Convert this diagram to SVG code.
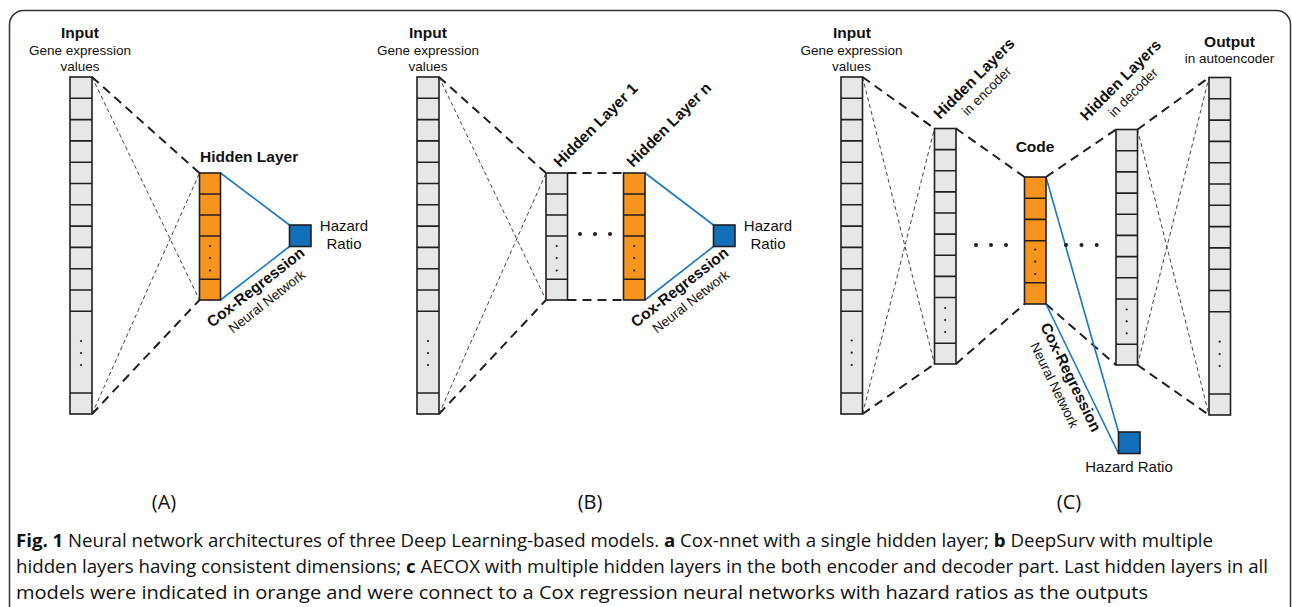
<svg xmlns="http://www.w3.org/2000/svg" width="1292" height="607" viewBox="0 0 1292 607">
<style>
.g{fill:#e6e7e8;stroke:#231f20;stroke-width:1.6}
.o{fill:#f7941d;stroke:#231f20;stroke-width:1.6}
.ln{fill:none;stroke:#231f20;stroke-width:1.6}
.hz{fill:#1170b8;stroke:#231f20;stroke-width:1.6}
.thick{fill:none;stroke:#231f20;stroke-width:2;stroke-dasharray:9 6}
.thin{fill:none;stroke:#444;stroke-width:1;stroke-dasharray:4 3}
.blue{fill:none;stroke:#1a78c2;stroke-width:1.6}
.dot{fill:#231f20}
text{font-family:"Liberation Sans",Arial,sans-serif;fill:#111}
.b{font-weight:bold;font-size:15.5px}
.r{font-size:13.5px}
.hr{font-size:15px}
.lab{font-family:"Open Sans","Liberation Sans",sans-serif;font-size:20px;fill:#111}
.cap{font-family:"Open Sans","Liberation Sans",sans-serif;font-size:18px;fill:#111}
</style>
<rect x="0" y="0" width="1292" height="607" fill="#fff"/>
<rect x="9.5" y="10.5" width="1281" height="660" rx="14" fill="none" stroke="#333" stroke-width="1.5"/>

<g id="connectors">
<!-- Panel A -->
<line class="thick" x1="92" y1="77" x2="199.5" y2="173"/>
<line class="thick" x1="92" y1="414" x2="199.5" y2="300"/>
<line class="thin" x1="92" y1="77" x2="199.5" y2="300"/>
<line class="thin" x1="92" y1="414" x2="199.5" y2="173"/>
<line class="blue" x1="220.5" y1="173" x2="289.5" y2="225"/>
<line class="blue" x1="220.5" y1="300" x2="289.5" y2="246.5"/>
<!-- Panel B -->
<line class="thick" x1="439" y1="77" x2="546" y2="173"/>
<line class="thick" x1="439" y1="414" x2="546" y2="300"/>
<line class="thin" x1="439" y1="77" x2="546" y2="300"/>
<line class="thin" x1="439" y1="414" x2="546" y2="173"/>
<line class="thick" x1="567.5" y1="173" x2="623.5" y2="173"/>
<line class="thick" x1="567.5" y1="300" x2="623.5" y2="300"/>
<line class="blue" x1="645" y1="173" x2="713.5" y2="225"/>
<line class="blue" x1="645" y1="300" x2="713.5" y2="246.5"/>
<!-- Panel C -->
<line class="thick" x1="862.5" y1="77" x2="934.5" y2="128.5"/>
<line class="thick" x1="862.5" y1="414" x2="934.5" y2="364"/>
<line class="thin" x1="862.5" y1="77" x2="934.5" y2="364"/>
<line class="thin" x1="862.5" y1="414" x2="934.5" y2="128.5"/>
<line class="thick" x1="956" y1="128.5" x2="1024.5" y2="177"/>
<line class="thick" x1="956" y1="364" x2="1024.5" y2="304"/>
<line class="thick" x1="1046" y1="177" x2="1116" y2="129.5"/>
<line class="thick" x1="1046" y1="304" x2="1116" y2="365"/>
<line class="thick" x1="1137.5" y1="129.5" x2="1209" y2="77.5"/>
<line class="thick" x1="1137.5" y1="365" x2="1209" y2="415"/>
<line class="thin" x1="1137.5" y1="129.5" x2="1209" y2="415"/>
<line class="thin" x1="1137.5" y1="365" x2="1209" y2="77.5"/>
<line class="blue" x1="1046" y1="177" x2="1118.5" y2="432"/>
<line class="blue" x1="1046" y1="304" x2="1118.5" y2="453.5"/>
</g>

<!-- Panel A -->
<g id="inputA">
<rect class="g" x="70" y="77" width="22" height="337"/>
<path class="ln" d="M70 98.3h22M70 119.6h22M70 140.9h22M70 162.2h22M70 183.5h22M70 204.8h22M70 226.1h22M70 247.4h22M70 268.7h22M70 290h22M70 311.3h22M70 393h22"/>
<circle class="dot" cx="81" cy="341" r="1.1"/><circle class="dot" cx="81" cy="353" r="1.1"/><circle class="dot" cx="81" cy="365" r="1.1"/>
<text class="b" x="80" y="38" text-anchor="middle">Input</text>
<text class="r" x="80" y="54.5" text-anchor="middle">Gene expression</text>
<text class="r" x="80" y="70.5" text-anchor="middle">values</text>
</g>
<g id="hiddenA">
<rect class="o" x="199.5" y="173" width="21" height="127"/>
<path class="ln" d="M199.5 194h21M199.5 215h21M199.5 236h21M199.5 279.3h21"/>
<circle class="dot" cx="210" cy="246" r="1.1"/><circle class="dot" cx="210" cy="258" r="1.1"/><circle class="dot" cx="210" cy="270.5" r="1.1"/>
<text class="b" x="200" y="162">Hidden Layer</text>
</g>
<g id="hazardA">
<rect class="hz" x="289.5" y="225" width="21.5" height="21.5"/>
<text class="hr" x="344" y="231" text-anchor="middle">Hazard</text>
<text class="hr" x="344" y="249" text-anchor="middle">Ratio</text>
</g>
<g id="coxA" transform="translate(212,328) rotate(-38)">
<text class="b" x="59.5" y="0" text-anchor="middle">Cox-Regression</text>
<text class="r" x="59.5" y="17.5" text-anchor="middle">Neural Network</text>
</g>
<text class="lab" x="164" y="509" text-anchor="middle">(A)</text>

<!-- Panel B -->
<g id="inputB">
<rect class="g" x="417" y="77" width="22" height="337"/>
<path class="ln" d="M417 98.3h22M417 119.6h22M417 140.9h22M417 162.2h22M417 183.5h22M417 204.8h22M417 226.1h22M417 247.4h22M417 268.7h22M417 290h22M417 311.3h22M417 393h22"/>
<circle class="dot" cx="428" cy="341" r="1.1"/><circle class="dot" cx="428" cy="353" r="1.1"/><circle class="dot" cx="428" cy="365" r="1.1"/>
<text class="b" x="428" y="38" text-anchor="middle">Input</text>
<text class="r" x="428" y="54.5" text-anchor="middle">Gene expression</text>
<text class="r" x="428" y="70.5" text-anchor="middle">values</text>
</g>
<g id="hidden1B">
<rect class="g" x="546" y="173" width="21.5" height="127"/>
<path class="ln" d="M546 194h21.5M546 215h21.5M546 236h21.5M546 279.3h21.5"/>
<circle class="dot" cx="556.7" cy="246" r="1.1"/><circle class="dot" cx="556.7" cy="258" r="1.1"/><circle class="dot" cx="556.7" cy="270.5" r="1.1"/>
<text class="b" transform="translate(560,168) rotate(-45)">Hidden Layer 1</text>
</g>
<g id="ellipsisB">
<circle class="dot" cx="580" cy="234" r="2"/><circle class="dot" cx="595" cy="234" r="2"/><circle class="dot" cx="610" cy="234" r="2"/>
</g>
<g id="hiddenNB">
<rect class="o" x="623.5" y="173" width="21.5" height="127"/>
<path class="ln" d="M623.5 194h21.5M623.5 215h21.5M623.5 236h21.5M623.5 279.3h21.5"/>
<circle class="dot" cx="634.2" cy="246" r="1.1"/><circle class="dot" cx="634.2" cy="258" r="1.1"/><circle class="dot" cx="634.2" cy="270.5" r="1.1"/>
<text class="b" transform="translate(633,168) rotate(-45)">Hidden Layer n</text>
</g>
<g id="hazardB">
<rect class="hz" x="713.5" y="225" width="21.5" height="21.5"/>
<text class="hr" x="768" y="231" text-anchor="middle">Hazard</text>
<text class="hr" x="768" y="249" text-anchor="middle">Ratio</text>
</g>
<g id="coxB" transform="translate(636,328) rotate(-38)">
<text class="b" x="59.5" y="0" text-anchor="middle">Cox-Regression</text>
<text class="r" x="59.5" y="17.5" text-anchor="middle">Neural Network</text>
</g>
<text class="lab" x="590" y="509" text-anchor="middle">(B)</text>

<!-- Panel C -->
<g id="inputC">
<rect class="g" x="841" y="77" width="21.5" height="337"/>
<path class="ln" d="M841 98.3h21.5M841 119.6h21.5M841 140.9h21.5M841 162.2h21.5M841 183.5h21.5M841 204.8h21.5M841 226.1h21.5M841 247.4h21.5M841 268.7h21.5M841 290h21.5M841 311.3h21.5M841 393h21.5"/>
<circle class="dot" cx="851.7" cy="340.5" r="1.1"/><circle class="dot" cx="851.7" cy="352.7" r="1.1"/><circle class="dot" cx="851.7" cy="365" r="1.1"/>
<text class="b" x="852" y="38" text-anchor="middle">Input</text>
<text class="r" x="851.5" y="54.5" text-anchor="middle">Gene expression</text>
<text class="r" x="851.5" y="70.5" text-anchor="middle">values</text>
</g>
<g id="encoderC">
<rect class="g" x="934.5" y="128.5" width="21.5" height="235.5"/>
<path class="ln" d="M934.5 149.6h21.5M934.5 170.8h21.5M934.5 191.9h21.5M934.5 213h21.5M934.5 234.1h21.5M934.5 255.2h21.5M934.5 276.4h21.5M934.5 297.5h21.5M934.5 343.3h21.5"/>
<circle class="dot" cx="945.2" cy="308" r="1.1"/><circle class="dot" cx="945.2" cy="320" r="1.1"/><circle class="dot" cx="945.2" cy="332" r="1.1"/>
<g transform="translate(940,120) rotate(-45)">
<text class="b" x="53.4" y="0" text-anchor="middle">Hidden Layers</text>
<text class="r" x="53.4" y="17" text-anchor="middle">in encoder</text>
</g>
</g>
<g id="ellipsisC1">
<circle class="dot" cx="976" cy="245" r="2"/><circle class="dot" cx="991" cy="245" r="2"/><circle class="dot" cx="1006" cy="245" r="2"/>
</g>
<g id="codeC">
<rect class="o" x="1024.5" y="177" width="21.5" height="127"/>
<path class="ln" d="M1024.5 198.2h21.5M1024.5 219.4h21.5M1024.5 240.7h21.5M1024.5 282.7h21.5"/>
<circle class="dot" cx="1035.2" cy="249.5" r="1.1"/><circle class="dot" cx="1035.2" cy="261.7" r="1.1"/><circle class="dot" cx="1035.2" cy="274" r="1.1"/>
<text class="b" x="1035" y="152" text-anchor="middle">Code</text>
</g>
<g id="ellipsisC2">
<circle class="dot" cx="1066" cy="245" r="2"/><circle class="dot" cx="1081.5" cy="245" r="2"/><circle class="dot" cx="1096.7" cy="245" r="2"/>
</g>
<g id="decoderC">
<rect class="g" x="1116" y="129.5" width="21.5" height="235.5"/>
<path class="ln" d="M1116 150.7h21.5M1116 171.9h21.5M1116 193.1h21.5M1116 214.3h21.5M1116 235.4h21.5M1116 256.6h21.5M1116 277.8h21.5M1116 299h21.5M1116 344.3h21.5"/>
<circle class="dot" cx="1126.7" cy="309.5" r="1.1"/><circle class="dot" cx="1126.7" cy="321.3" r="1.1"/><circle class="dot" cx="1126.7" cy="333.3" r="1.1"/>
<g transform="translate(1086.5,121.5) rotate(-45)">
<text class="b" x="53.4" y="0" text-anchor="middle">Hidden Layers</text>
<text class="r" x="53.4" y="17" text-anchor="middle">in decoder</text>
</g>
</g>
<g id="outputC">
<rect class="g" x="1209" y="77.5" width="21.5" height="337.5"/>
<path class="ln" d="M1209 98.8h21.5M1209 120.1h21.5M1209 141.4h21.5M1209 162.7h21.5M1209 184h21.5M1209 205.3h21.5M1209 226.6h21.5M1209 247.9h21.5M1209 269.2h21.5M1209 290.5h21.5M1209 311.8h21.5M1209 394h21.5"/>
<circle class="dot" cx="1219.7" cy="341.7" r="1.1"/><circle class="dot" cx="1219.7" cy="354" r="1.1"/><circle class="dot" cx="1219.7" cy="366" r="1.1"/>
<text class="b" x="1229.5" y="47" text-anchor="middle">Output</text>
<text class="r" x="1229.5" y="63" text-anchor="middle">in autoencoder</text>
</g>
<g id="hazardC">
<rect class="hz" x="1118.5" y="432" width="21.5" height="21.5"/>
<text class="hr" x="1129" y="472" text-anchor="middle">Hazard Ratio</text>
</g>
<g id="coxC" transform="translate(1040,326) rotate(64)">
<text class="b" x="59.5" y="0" text-anchor="middle">Cox-Regression</text>
<text class="r" x="59.5" y="17.5" text-anchor="middle">Neural Network</text>
</g>
<text class="lab" x="1069" y="509" text-anchor="middle">(C)</text>

<g id="caption">
<text class="cap" x="16" y="547" textLength="1197" lengthAdjust="spacingAndGlyphs"><tspan font-weight="bold">Fig. 1</tspan> Neural network architectures of three Deep Learning-based models. <tspan font-weight="bold">a</tspan> Cox-nnet with a single hidden layer; <tspan font-weight="bold">b</tspan> DeepSurv with multiple</text>
<text class="cap" x="16" y="573" textLength="1252" lengthAdjust="spacingAndGlyphs">hidden layers having consistent dimensions; <tspan font-weight="bold">c</tspan> AECOX with multiple hidden layers in the both encoder and decoder part. Last hidden layers in all</text>
<text class="cap" x="16" y="599" textLength="1132" lengthAdjust="spacingAndGlyphs">models were indicated in orange and were connect to a Cox regression neural networks with hazard ratios as the outputs</text>
</g>
</svg>
